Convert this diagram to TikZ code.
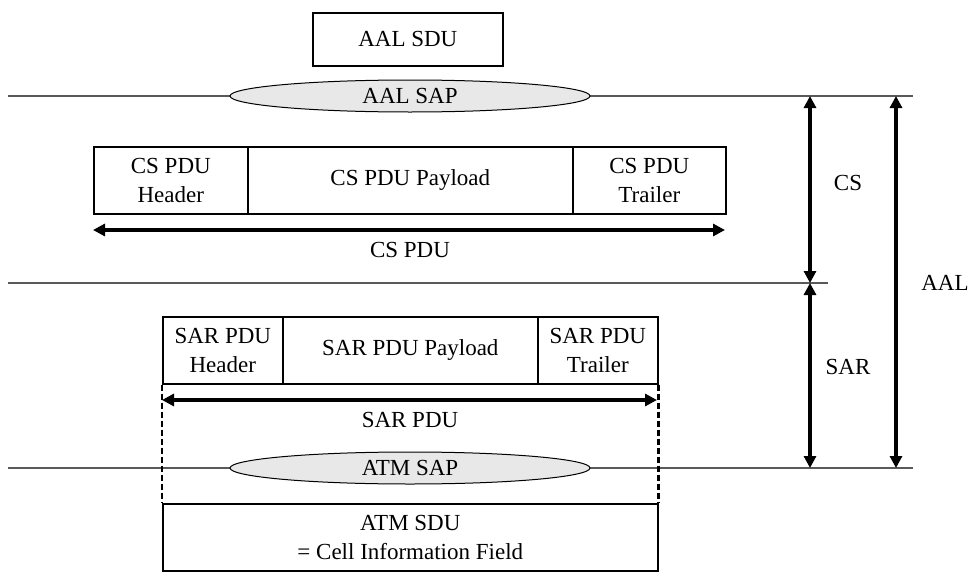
\documentclass[tikz,border=0pt]{standalone}
\usepackage{fontspec}
\setmainfont{Liberation Serif}
\usetikzlibrary{arrows.meta,shapes.geometric}
\begin{document}
\begin{tikzpicture}[x=1pt,y=-1pt,
  box/.style={draw,line width=1.6pt,inner sep=0pt,anchor=north west,align=center},
  sap/.style={ellipse,draw,line width=1pt,fill=black!9,minimum width=360pt,minimum height=32pt,inner sep=0pt},
  layer/.style={draw=black!65,line width=1.2pt},
  dim/.style={line width=3.2pt,{Triangle[length=12pt,width=12pt]}-{Triangle[length=12pt,width=12pt]}},
  pdudash/.style={line width=2.4pt,dash pattern=on 6pt off 3pt},
  lbl/.style={inner sep=0pt},
  font=\fontsize{23}{29}\selectfont]
\useasboundingbox (0,0) rectangle (970,573);
% layer lines
\coordinate (l1a) at (8,96);   \coordinate (l1b) at (913,96);
\coordinate (l2a) at (8,283);  \coordinate (l2b) at (828,283);
\coordinate (l3a) at (8,468);  \coordinate (l3b) at (913,468);
\draw[layer] (l1a) -- (l1b);
\draw[layer] (l2a) -- (l2b);
\draw[layer] (l3a) -- (l3b);
% AAL SDU and SAP
\node[box,minimum width=190pt,minimum height=53pt] (aalsdu) at (312,12) {AAL SDU};
\node[sap] (aalsap) at (410,96) {AAL SAP};
% CS PDU
\node[box,minimum width=154pt,minimum height=67pt] (csh) at (93,146) {CS PDU\\Header};
\node[box,minimum width=325pt,minimum height=67pt] (csp) at (247,146) {CS PDU Payload};
\node[box,minimum width=153pt,minimum height=67pt] (cst) at (572,146) {CS PDU\\Trailer};
\coordinate (csL) at (93,230); \coordinate (csR) at (725,230);
\draw[dim] (csL) -- (csR);
\node[lbl] (cspdu) at (410,250) {CS PDU};
% SAR PDU
\node[box,minimum width=120pt,minimum height=67pt] (sarh) at (162,316) {SAR PDU\\Header};
\node[box,minimum width=255pt,minimum height=67pt] (sarp) at (282,316) {SAR PDU Payload};
\node[box,minimum width=120pt,minimum height=67pt] (sart) at (537,316) {SAR PDU\\Trailer};
\coordinate (sarL) at (162,400); \coordinate (sarR) at (657,400);
\draw[dim] (sarL) -- (sarR);
\node[lbl] (sarpdu) at (410,420) {SAR PDU};
% ATM SAP and SDU
\node[box,minimum width=495pt,minimum height=67pt] (atmsdu) at (162,503) {ATM SDU\\= Cell Information Field};
\draw[pdudash] (sarh.south west) -- (atmsdu.north west);
\draw[pdudash] (sart.south east) -- (atmsdu.north east);
\node[sap] (atmsap) at (410,468) {ATM SAP};
% layer dimension arrows
\coordinate (csTop) at (810,96);  \coordinate (csBot) at (810,283);
\coordinate (sarBot) at (810,468);
\coordinate (aalTop) at (896,96); \coordinate (aalBot) at (896,468);
\draw[dim] (csTop) -- (csBot);
\draw[dim] (csBot) -- (sarBot);
\draw[dim] (aalTop) -- (aalBot);
\node[lbl] (cslbl) at (848,183) {CS};
\node[lbl] (sarlbl) at (848,367) {SAR};
\node[lbl] (aallbl) at (945,283) {AAL};
\end{tikzpicture}
\end{document}
